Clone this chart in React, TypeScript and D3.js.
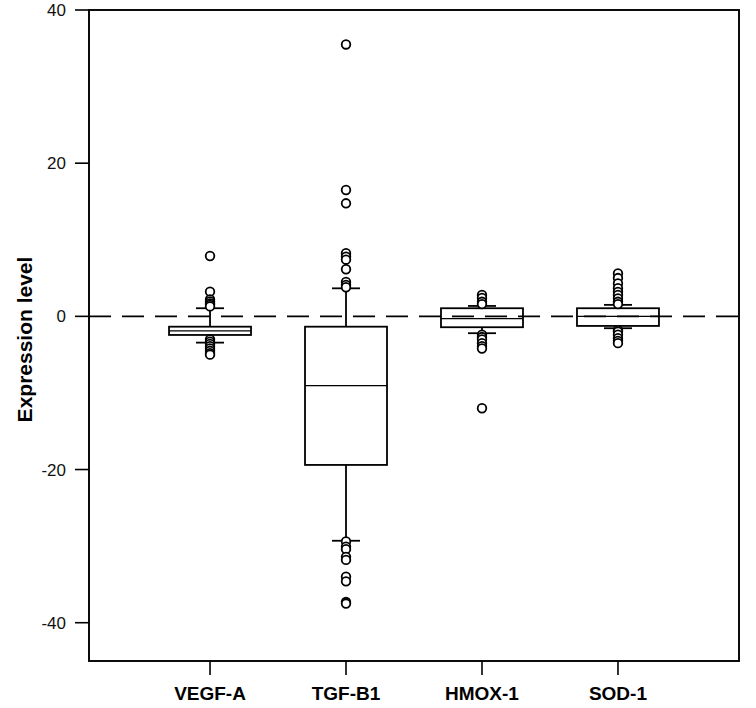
import React, { useEffect } from "react";
import * as d3 from "d3";

// chart values
const categories = ["VEGF-A", "TGF-B1", "HMOX-1", "SOD-1"];
const q1 = [-2.43, -19.4, -1.42, -1.25];
const medians = [-1.9, -9.05, -0.3, 0.0];
const q3 = [-1.35, -1.35, 1.06, 1.06];
const whiskerLow = [-3.43, -29.3, -2.2, -1.55];
const whiskerHigh = [1.06, 3.66, 1.36, 1.5];
const outliers = [
  [7.88, 3.22, 2.2, 1.95, 1.7, 1.5, 1.3, -3.0, -3.3, -3.6, -3.9, -4.2, -4.5, -4.8, -5.0],
  [35.5, 16.5, 14.76, 8.24, 7.8, 7.4, 6.15, 4.5, 4.1, 3.8, -29.4, -30.06, -30.4, -31.4, -31.8, -34.0, -34.6, -37.3, -37.5],
  [2.8, 2.4, 1.9, 1.6, -2.4, -2.7, -3.0, -3.5, -3.9, -4.2, -12.0],
  [5.6, 5.0, 4.3, 3.67, 3.2, 2.8, 2.35, 1.9, 1.6, -1.8, -2.0, -2.4, -2.85, -3.2, -3.5],
];
const yTicks = [40, 20, 0, -20, -40];

const W = 756;
const H = 708;
const left = 89;
const right = 739;
const top = 10;
const bottom = 661;

export default function App() {
  useEffect(() => {
    document.body.style.margin = "0";
  }, []);

  const y = d3.scaleLinear().domain([-45, 40]).range([bottom, top]);
  const x = d3.scalePoint<string>().domain(categories).range([left, right]).padding(0.89);

  const boxW = 82;
  const capW = 28;
  const font = "'Liberation Sans', Arial, sans-serif";

  return (
    <svg width={W} height={H} style={{ display: "block", background: "#fff" }}>
      {/* zero reference line */}
      <line x1={left} x2={right} y1={y(0)} y2={y(0)} stroke="#000" strokeWidth={1.7} strokeDasharray="22 11" />

      {categories.map((c, i) => {
        const cx = x(c)!;
        return (
          <g key={c} stroke="#000" fill="none" strokeWidth={1.8}>
            <line x1={cx} x2={cx} y1={y(q3[i])} y2={y(whiskerHigh[i])} />
            <line x1={cx} x2={cx} y1={y(q1[i])} y2={y(whiskerLow[i])} />
            <line x1={cx - capW / 2} x2={cx + capW / 2} y1={y(whiskerHigh[i])} y2={y(whiskerHigh[i])} />
            <line x1={cx - capW / 2} x2={cx + capW / 2} y1={y(whiskerLow[i])} y2={y(whiskerLow[i])} />
            <rect x={cx - boxW / 2} y={y(q3[i])} width={boxW} height={y(q1[i]) - y(q3[i])} />
            <line x1={cx - boxW / 2} x2={cx + boxW / 2} y1={y(medians[i])} y2={y(medians[i])} strokeWidth={1.4} />
            {outliers[i].map((v, j) => (
              <circle key={j} cx={cx} cy={y(v)} r={4.3} strokeWidth={1.8} fill="#fff" />
            ))}
          </g>
        );
      })}

      {/* frame */}
      <rect x={left} y={top} width={right - left} height={bottom - top} fill="none" stroke="#000" strokeWidth={1.9} />

      {/* y axis */}
      {yTicks.map((t) => (
        <g key={t}>
          <line x1={left - 14} x2={left} y1={y(t)} y2={y(t)} stroke="#000" strokeWidth={1.6} />
          <text x={left - 23} y={y(t)} dy="0.36em" textAnchor="end" fontFamily={font} fontSize={17} fill="#111">
            {t}
          </text>
        </g>
      ))}
      <text
        transform={`translate(32,${(top + bottom) / 2 + 4}) rotate(-90)`}
        textAnchor="middle"
        fontFamily={font}
        fontWeight="bold"
        fontSize={21}
        fill="#000"
      >
        Expression level
      </text>

      {/* x axis */}
      {categories.map((c) => (
        <g key={c}>
          <line x1={x(c)!} x2={x(c)!} y1={bottom} y2={bottom + 14} stroke="#000" strokeWidth={1.6} />
          <text x={x(c)!} y={bottom + 39} textAnchor="middle" fontFamily={font} fontWeight="bold" fontSize={19} fill="#000">
            {c}
          </text>
        </g>
      ))}
    </svg>
  );
}
